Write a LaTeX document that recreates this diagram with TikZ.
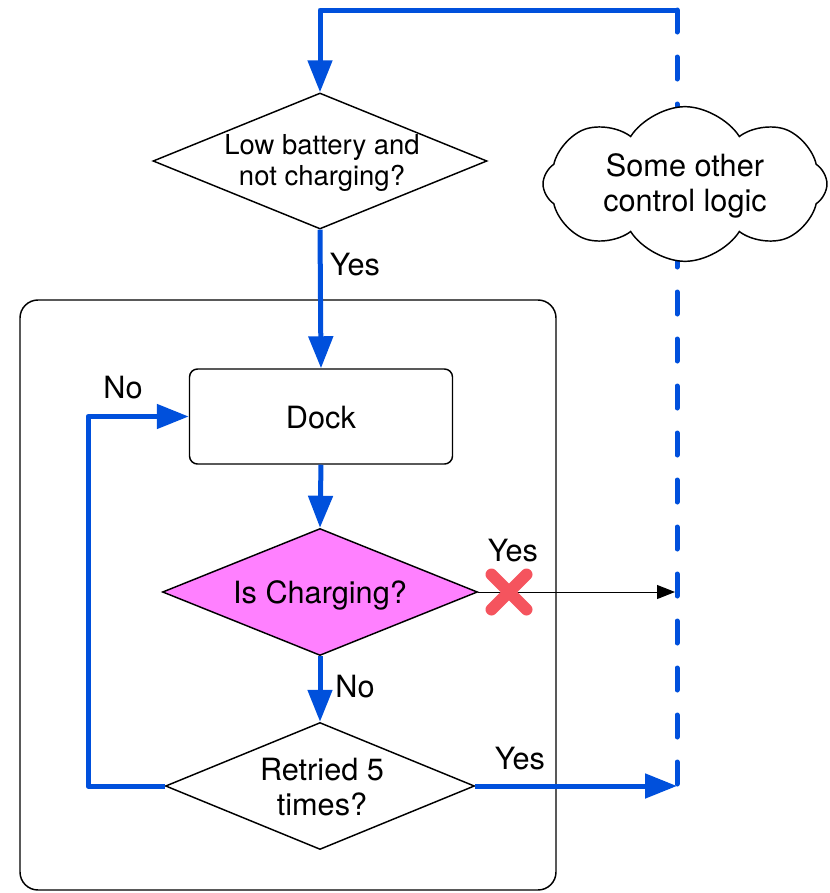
\documentclass[tikz,border=0pt]{standalone}
\usepackage{fontspec}
\setmainfont{TeX Gyre Heros}
\usetikzlibrary{shapes.geometric,shapes.symbols,arrows.meta,backgrounds}
\definecolor{flowblue}{RGB}{0,80,220}
\definecolor{chargefill}{RGB}{255,128,255}
\definecolor{crossred}{RGB}{245,84,94}
\begin{document}
\begin{tikzpicture}[x=0.75pt,y=-0.75pt,
  flow/.style={draw=flowblue, line width=3.75pt, line join=round},
  bigtip/.style={-{Triangle[length=24pt,width=18pt]}},
  decision/.style={draw, diamond, line width=1.1pt, inner sep=0pt},
  stepbox/.style={draw, rectangle, rounded corners=6pt, line width=1.1pt, inner sep=0pt},
  txt/.style={font=\fontsize{23}{26.5}\selectfont, align=center, inner sep=0pt},
  smalltxt/.style={font=\fontsize{20.6}{23.25}\selectfont, align=center, inner sep=0pt}]
\useasboundingbox (0,0) rectangle (829,893);

% group frame around the docking procedure
\node[draw, rectangle, rounded corners=13.5pt, line width=1.1pt,
      minimum width=402pt, minimum height=442.5pt] (panel) at (288,595) {};

% shapes
\node[decision, fill=white, minimum width=250.5pt, minimum height=102pt] (d1) at (320,161) {};
\node[smalltxt] (d1t) at (322,163) {Low battery and\\not charging?};

\node[stepbox, fill=white, minimum width=197.25pt, minimum height=71.25pt] (dock) at (321,416.5) {};
\node[txt] (dockt) at (321,417.5) {Dock};

\node[decision, fill=chargefill, minimum width=236.25pt, minimum height=95.25pt] (d2) at (320,592) {};
\node[txt, anchor=base] (d2t) at (320,603) {Is Charging?};

\node[decision, fill=white, minimum width=231.75pt, minimum height=95.25pt] (d3) at (320,786) {};
\node[txt] (d3t) at (322,787) {Retried 5\\times?};

\node[cloud, cloud puffs=8, cloud puff arc=115, cloud ignores aspect, draw, fill=white,
      line width=1.1pt, inner sep=0pt, minimum width=213pt, minimum height=116pt] (logic) at (685,184) {};
\node[txt] (logict) at (685,186) {Some other\\control logic};

% corner points of the return path
\coordinate (c1) at (677,786);
\coordinate (c2) at (677,10);
\coordinate (c3) at (320,10);
\coordinate (c4) at (675,592);
\coordinate (loopc) at (88,786);

% dashed return path, behind the cloud
\begin{pgfonlayer}{background}
\draw[draw=flowblue, line width=3.75pt, line cap=round, dash pattern=on 16.5pt off 18.75pt] (c2) -- (c1);
\end{pgfonlayer}

% connectors
\draw[flow, bigtip] (c2) -- (c3) -- (d1.north);
\draw[flow, bigtip] (d1.south) -- (dock.north);
\draw[flow, bigtip] (dock.south) -- (d2.north);
\draw[flow, bigtip] (d2.south) -- (d3.north);
\draw[flow, bigtip] (d3.west) -- (loopc) |- (dock.west);
\draw[flow, bigtip] (d3.east) -- (c1);
\draw[line width=0.75pt, -{Triangle[length=13.5pt,width=10.5pt]}] (d2.east) -- (c4);

% blocked path marker
\node[inner sep=0pt, minimum size=0pt] (xmark) at (509,592) {};
\draw[crossred, line width=9pt, line cap=round]
  ([shift={(-17.5,-17.5)}]xmark.center) -- ([shift={(17.5,17.5)}]xmark.center)
  ([shift={(-17.5,17.5)}]xmark.center) -- ([shift={(17.5,-17.5)}]xmark.center);

% connector labels
\node[txt] (yes1) at (355,265) {Yes};
\node[txt] (no1) at (123,388) {No};
\node[txt] (yes2) at (513,551) {Yes};
\node[txt] (no2) at (355,687) {No};
\node[txt] (yes3) at (520,759) {Yes};
\end{tikzpicture}
\end{document}
